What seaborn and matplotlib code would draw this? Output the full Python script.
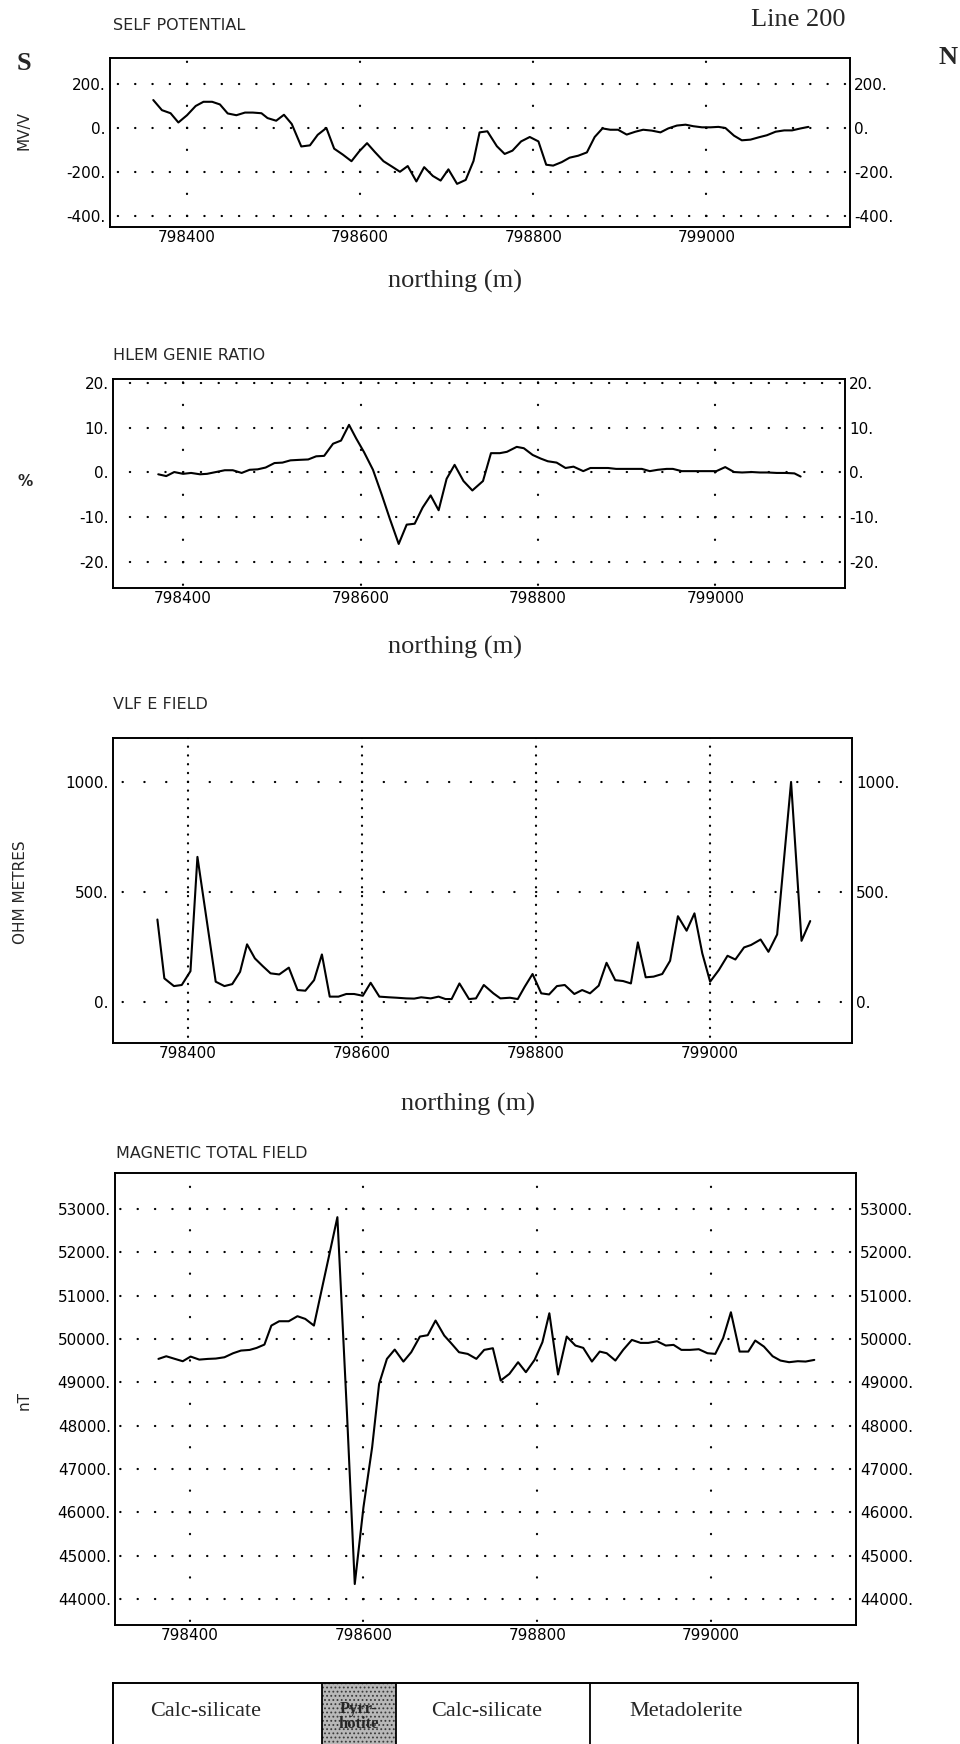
import numpy as np
import pandas as pd
import matplotlib
matplotlib.use("Agg")
import matplotlib.pyplot as plt
from matplotlib.ticker import FixedLocator, FuncFormatter
import seaborn as sns

# --- profile data, Line 200 ---
north_ticks = [798400, 798600, 798800, 799000]

sp_north = [798361, 798371, 798381, 798390, 798400, 798410, 798419, 798429, 798438, 798447,
            798457, 798467, 798476, 798486, 798493, 798503, 798512, 798521, 798532, 798542,
            798551, 798561, 798570, 798580, 798590, 798599, 798608, 798617, 798627, 798637,
            798646, 798655, 798665, 798674, 798684, 798693, 798702, 798712, 798722, 798731,
            798738, 798747, 798758, 798767, 798776, 798786, 798796, 798806, 798815, 798823,
            798833, 798842, 798852, 798862, 798871, 798880, 798889, 798898, 798908, 798918,
            798927, 798937, 798947, 798956, 798966, 798976, 798985, 798995, 799005, 799014,
            799022, 799032, 799041, 799051, 799061, 799070, 799080, 799090, 799099, 799109,
            799118]
sp_mv = [127, 81, 67, 25, 58, 100, 119, 119, 107, 66,
         58, 70, 70, 67, 45, 33, 60, 18, -84, -79,
         -31, 0, -94, -121, -151, -106, -69, -109, -151, -176,
         -199, -173, -243, -178, -218, -239, -188, -254, -236, -150,
         -20, -15, -83, -118, -103, -61, -41, -61, -167, -171,
         -155, -135, -126, -111, -41, -2, -8, -8, -30, -17,
         -8, -12, -20, -2, 11, 15, 8, 3, 3, 5,
         0, -35, -56, -53, -42, -33, -17, -11, -11, -2,
         5]
sp_ticks = [-400, -200, 0, 200]

hlem_north = [798372, 798381, 798390, 798400, 798409, 798419, 798427, 798437, 798447, 798456,
              798466, 798475, 798484, 798493, 798503, 798512, 798521, 798530, 798541, 798550,
              798559, 798569, 798578, 798587, 798595, 798604, 798614, 798624, 798633, 798643,
              798652, 798661, 798670, 798679, 798688, 798697, 798706, 798716, 798726, 798738,
              798747, 798757, 798765, 798776, 798784, 798794, 798803, 798811, 798821, 798831,
              798840, 798851, 798859, 798869, 798879, 798888, 798898, 798909, 798917, 798926,
              798935, 798945, 798952, 798962, 798971, 798982, 798992, 799001, 799011, 799021,
              799030, 799041, 799050, 799059, 799069, 799079, 799089, 799096]
hlem_pct = [-0.4, -0.8, 0.1, -0.3, -0.1, -0.4, -0.3, 0.1, 0.5, 0.5,
            -0.1, 0.6, 0.7, 1.1, 2.1, 2.2, 2.7, 2.8, 2.9, 3.6,
            3.7, 6.4, 7.1, 10.6, 7.6, 4.5, 0.6, -5.0, -10.3, -15.9,
            -11.6, -11.4, -7.8, -5.1, -8.4, -1.4, 1.7, -1.9, -4.0, -1.9,
            4.3, 4.3, 4.6, 5.7, 5.4, 3.9, 3.1, 2.5, 2.2, 1.0,
            1.3, 0.3, 1.0, 1.0, 1.0, 0.8, 0.8, 0.8, 0.8, 0.3,
            0.6, 0.8, 0.8, 0.3, 0.3, 0.3, 0.3, 0.3, 1.2, 0.1,
            0.0, 0.1, 0.0, 0.0, -0.1, -0.1, -0.2, -0.9]
hlem_ticks = [-20, -10, 0, 10, 20]

vlf_north = [798365, 798373, 798384, 798393, 798403, 798411, 798432, 798442, 798451, 798460,
             798468, 798477, 798486, 798495, 798505, 798516, 798526, 798535, 798545, 798554,
             798563, 798573, 798582, 798591, 798601, 798610, 798620, 798631, 798640, 798651,
             798660, 798668, 798679, 798688, 798696, 798703, 798712, 798723, 798731, 798740,
             798751, 798759, 798770, 798779, 798787, 798796, 798806, 798815, 798824, 798833,
             798844, 798853, 798862, 798872, 798881, 798891, 798900, 798909, 798917, 798926,
             798935, 798945, 798954, 798963, 798973, 798982, 798991, 799000, 799010, 799020,
             799029, 799039, 799047, 799058, 799067, 799077, 799093, 799105, 799115]
vlf_ohm = [374, 106, 71, 76, 139, 659, 91, 71, 80, 136,
           261, 197, 162, 129, 124, 155, 53, 50, 98, 215,
           23, 23, 35, 35, 27, 86, 23, 20, 18, 15,
           14, 20, 15, 23, 12, 12, 83, 12, 15, 76,
           38, 15, 18, 12, 68, 126, 38, 33, 71, 76,
           35, 53, 38, 73, 177, 98, 94, 83, 270, 111,
           114, 126, 186, 389, 323, 402, 220, 91, 144, 209,
           192, 247, 258, 283, 227, 306, 1000, 277, 367]
vlf_ticks = [0, 500, 1000]

mag_north = [798364, 798373, 798383, 798392, 798401, 798411, 798421, 798430, 798440, 798450,
             798459, 798469, 798477, 798486, 798494, 798503, 798514, 798524, 798533, 798543,
             798552, 798561, 798570, 798581, 798590, 798600, 798610, 798618, 798627, 798636,
             798646, 798655, 798665, 798674, 798683, 798693, 798701, 798710, 798720, 798730,
             798739, 798749, 798758, 798768, 798778, 798787, 798797, 798806, 798814, 798824,
             798834, 798844, 798853, 798863, 798872, 798880, 798890, 798899, 798909, 798919,
             798928, 798938, 798948, 798957, 798966, 798976, 798986, 798996, 799005, 799014,
             799023, 799033, 799043, 799051, 799061, 799071, 799080, 799090, 799100, 799109,
             799119]
mag_nt = [49539, 49600, 49539, 49485, 49593, 49523, 49539, 49547, 49577, 49670,
          49731, 49746, 49792, 49869, 50307, 50407, 50407, 50523, 50461, 50307,
          51140, 51970, 52805, 48300, 44351, 46119, 47502, 48962, 49539, 49754,
          49477, 49693, 50054, 50085, 50423, 50077, 49900, 49693, 49654, 49540,
          49747, 49785, 49041, 49194, 49463, 49233, 49516, 49923, 50591, 49179,
          50054, 49847, 49793, 49478, 49708, 49670, 49501, 49747, 49977, 49908,
          49908, 49946, 49847, 49862, 49747, 49747, 49762, 49670, 49655, 50015,
          50614, 49708, 49708, 49962, 49823, 49601, 49501, 49463, 49486, 49478,
          49516]
mag_ticks = [44000, 45000, 46000, 47000, 48000, 49000, 50000, 51000, 52000, 53000]

litho_edges = [798311, 798551, 798636, 798860, 799168]
litho_names = ["Calc-silicate", "Pyrr-\nhotite", "Calc-silicate", "Metadolerite"]
litho_label_at = [798418, 798594, 798741, 798970]

W, H, DPI = 960, 1744, 100
SERIF = ["Liberation Serif", "DejaVu Serif"]

sns.set_theme(style="white")
plt.rcParams["font.family"] = ["DejaVu Sans"]
plt.rcParams["lines.scale_dashes"] = False
plt.rcParams["hatch.linewidth"] = 0.8


def add_box(fig, left, top, right, bottom):
    """Axes placed by pixel edges of the 960x1744 sheet."""
    return fig.add_axes([left / W, 1 - bottom / H, (right - left) / W, (bottom - top) / H])


def dotted_grid(ax, which, step, lw=1.6):
    """Plotter style dotted grid: one dot every `step` data units along the line."""
    pos = ax.get_position()
    if which == "y":
        lo, hi = ax.get_xlim()
        length = pos.width * W
    else:
        lo, hi = ax.get_ylim()
        length = pos.height * H
    pt_per_unit = length / (hi - lo) * 72 / DPI
    period = step * pt_per_unit
    first = np.ceil(lo / step) * step
    offset = (period - (first - lo) * pt_per_unit) % period
    ax.grid(True, axis=which, color="black", linewidth=lw,
            linestyle=(offset, (0.2, period - 0.2)), dash_capstyle="round")


def profile(ax, north, values, ticks, xlim, ylim, row_step, col_step):
    df = pd.DataFrame({"northing": north, "value": values})
    sns.lineplot(data=df, x="northing", y="value", ax=ax, color="black",
                 linewidth=1.5, estimator=None, sort=False)
    ax.set_xlim(*xlim)
    ax.set_ylim(*ylim)
    ax.xaxis.set_major_locator(FixedLocator(north_ticks))
    ax.yaxis.set_major_locator(FixedLocator(ticks))
    ax.xaxis.set_major_formatter(FuncFormatter(lambda v, p: f"{v:.0f}"))
    ax.yaxis.set_major_formatter(FuncFormatter(lambda v, p: f"{v:.0f}."))
    ax.tick_params(axis="both", length=0, labelsize=11, colors="black")
    ax.tick_params(axis="y", labelright=True, pad=3)
    ax.tick_params(axis="x", pad=2)
    ax.set_xlabel("")
    ax.set_ylabel("")
    for sp in ax.spines.values():
        sp.set_visible(True)
        sp.set_linewidth(1.4)
        sp.set_color("black")
    dotted_grid(ax, "y", row_step)
    dotted_grid(ax, "x", col_step)


def label(x, y, s, **kw):
    plt.gcf().text(x / W, 1 - y / H, s, **kw)


fig = plt.figure(figsize=(W / DPI, H / DPI), dpi=DPI)

ax1 = add_box(fig, 110, 58, 850, 227)
profile(ax1, sp_north, sp_mv, sp_ticks, (798311, 799166), (-450, 318), 20, 100)
ax2 = add_box(fig, 113, 379, 845, 588)
profile(ax2, hlem_north, hlem_pct, hlem_ticks, (798321, 799146), (-25.7, 20.8), 20, 5)
ax3 = add_box(fig, 113, 738, 852, 1043)
profile(ax3, vlf_north, vlf_ohm, vlf_ticks, (798314, 799163), (-188, 1200), 25, 40)
ax4 = add_box(fig, 115, 1173, 856, 1625)
profile(ax4, mag_north, mag_nt, mag_ticks, (798314, 799167), (43407, 53823), 20, 500)

# panel titles and units
title_kw = dict(fontsize=11.5, ha="left", va="center")
label(113, 25, "SELF POTENTIAL", **title_kw)
label(113, 355, "HLEM GENIE RATIO", **title_kw)
label(113, 704, "VLF E FIELD", **title_kw)
label(116, 1154, "MAGNETIC TOTAL FIELD", **title_kw)

unit_kw = dict(fontsize=11, ha="center", va="center")
label(24, 130, "MV/V", rotation=90, **unit_kw)
label(25, 481, "%", fontweight="bold", **unit_kw)
label(21, 892, "OHM METRES", rotation=90, **unit_kw)
label(24, 1400, "nT", rotation=90, **unit_kw)

axis_kw = dict(fontsize=19, ha="center", va="center", family=SERIF)
label(455, 281, "northing (m)", **axis_kw)
label(455, 647, "northing (m)", **axis_kw)
label(468, 1104, "northing (m)", **axis_kw)

label(798, 20, "Line 200", fontsize=19, ha="center", va="center", family=SERIF)
label(24, 64, "S", fontsize=19, fontweight="bold", ha="center", va="center", family=SERIF)
label(948, 57, "N", fontsize=19, fontweight="bold", ha="center", va="center", family=SERIF)

# lithology strip under the magnetics
axl = add_box(fig, 113, 1683, 858, 1750)
axl.set_xlim(litho_edges[0], litho_edges[-1])
axl.set_ylim(0, 1)
axl.set_xticks([])
axl.set_yticks([])
for side, sp in axl.spines.items():
    sp.set_visible(side != "bottom")
    sp.set_linewidth(1.4)
    sp.set_color("black")
axl.axvspan(litho_edges[1], litho_edges[2], facecolor="#b8b8b8", edgecolor="#3a3a3a",
            hatch="....", linewidth=0)
for edge in litho_edges[1:-1]:
    axl.axvline(edge, color="black", linewidth=1.3)
for name, xpos in zip(litho_names, litho_label_at):
    if "\n" in name:
        axl.text(xpos, 0.5, name, ha="center", va="center", fontsize=12,
                 fontweight="bold", family=SERIF, linespacing=0.9)
    else:
        axl.text(xpos, 0.57, name, ha="center", va="center", fontsize=16, family=SERIF)

fig.savefig("out.png", dpi=DPI)
